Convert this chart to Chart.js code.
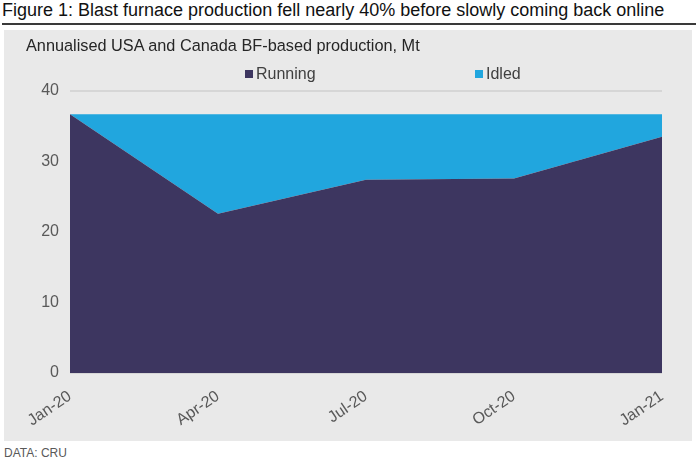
<!DOCTYPE html>
<html>
<head>
<meta charset="utf-8">
<script src="https://cdn.jsdelivr.net/npm/chart.js@4.4.1/dist/chart.umd.min.js"></script>
<style>
  body { margin: 0; background: #fff; font-family: "Liberation Sans", Arial, sans-serif; }
  #wrap { position: relative; width: 698px; height: 461px; overflow: hidden; }
  #title { position: absolute; left: 2px; top: 0px; font-size: 18px; color: #111; white-space: nowrap; }
  #rule { position: absolute; left: 2px; top: 23px; width: 694px; height: 2px; background: #3a3a3a; }
  #box { position: absolute; left: 4px; top: 30px; width: 688px; height: 411px; background: #e9e9e9; }
  #sub { position: absolute; left: 22px; top: 6px; font-size: 16.3px; color: #262626; white-space: nowrap; }
  .leg { position: absolute; top: 35px; font-size: 16px; color: #404040; white-space: nowrap; }
  .leg i { display: inline-block; width: 8px; height: 8px; margin-right: 3px; vertical-align: 1px; }
  #src { position: absolute; left: 4px; top: 446px; font-size: 12px; color: #595959; }
  canvas { position: absolute; left: 0; top: 0; }
</style>
</head>
<body>
<div id="wrap">
  <div id="title">Figure 1: Blast furnace production fell nearly 40% before slowly coming back online</div>
  <div id="rule"></div>
  <div id="box">
    <canvas id="chart" width="688" height="411"></canvas>
    <div id="sub">Annualised USA and Canada BF-based production, Mt</div>
    <div class="leg" id="leg0" style="left:241px"></div>
    <div class="leg" id="leg1" style="left:471px"></div>
  </div>
  <div id="src">DATA: CRU</div>
</div>
<script>
// quarterly points, Mt annualised
const labels = ['Jan-20', 'Apr-20', 'Jul-20', 'Oct-20', 'Jan-21'];
const running = [36.7, 22.6, 27.4, 27.6, 33.5];
const idled = [0, 14.1, 9.3, 9.1, 3.2];
const yTicks = [0, 10, 20, 30, 40];

const corRunning = '#3d3660';
const corIdled = '#21a6de';
const corTexto = '#595959';

// legenda em html
function legenda(id, nome, cor) {
    document.getElementById(id).innerHTML = '<i style="background:' + cor + '"></i>' + nome;
}
legenda('leg0', 'Running', corRunning);
legenda('leg1', 'Idled', corIdled);

var ctx = document.getElementById('chart').getContext('2d');
var data = {
    labels: labels,
    datasets: [{
            label: 'Running',
            data: running,
            backgroundColor: corRunning,
            borderWidth: 0,
            pointRadius: 0,
            fill: 'origin'
        }, {
            label: 'Idled',
            data: idled,
            backgroundColor: corIdled,
            borderWidth: 0,
            pointRadius: 0,
            fill: '-1'
        }]
};
const config = {
    type: 'line',
    data,
    options: {
        responsive: false,
        animation: false,
        layout: {
            padding: {top: 61, right: 30, left: 0, bottom: 0}
        },
        plugins: {
            legend: {display: false},
            tooltip: {enabled: false}
        },
        scales: {
            x: {
                grid: {display: false},
                border: {display: false},
                ticks: {
                    color: corTexto,
                    font: {family: 'Liberation Sans', size: 16},
                    minRotation: 34,
                    maxRotation: 34,
                    padding: 6,
                    autoSkip: false
                },
                afterFit: function (scale) {
                    scale.height = 68;
                }
            },
            y: {
                stacked: true,
                min: 0,
                max: 40,
                afterBuildTicks: function (scale) {
                    scale.ticks = yTicks.map(v => ({value: v}));
                },
                grid: {color: '#d6d6d6', lineWidth: 2, drawTicks: false},
                border: {display: false},
                ticks: {
                    color: corTexto,
                    font: {family: 'Liberation Sans', size: 16},
                    padding: 11
                },
                afterFit: function (scale) {
                    scale.width = 66;
                }
            }
        }
    }
};
var grafico = new Chart(ctx, config);
</script>
</body>
</html>
